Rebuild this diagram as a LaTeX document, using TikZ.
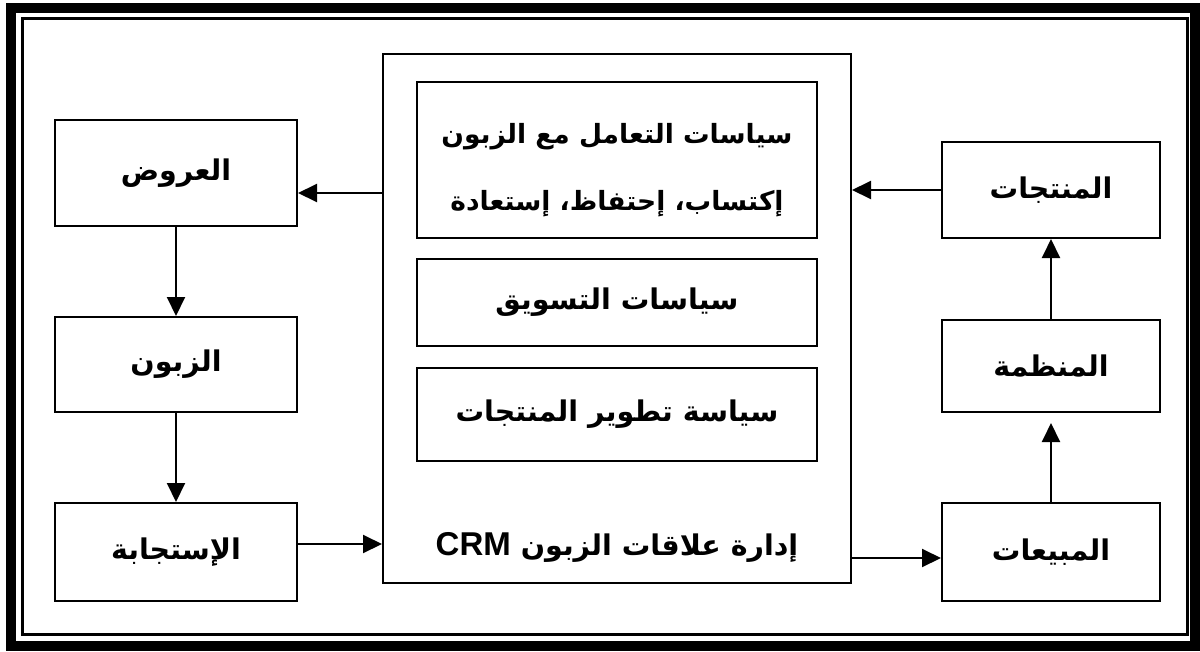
\documentclass[tikz,border=0pt]{standalone}
\usepackage{fontspec}
\usetikzlibrary{arrows.meta}
\setmainfont{Liberation Sans}
\newfontfamily\arabicfont[Script=Arabic]{DejaVu Sans}
\TeXXeTstate=1
\newcommand{\ar}[1]{\arabicfont\bfseries\beginR #1\endR}
\begin{document}
\begin{tikzpicture}[x=1pt,y=-1pt,
    box/.style={draw, line width=2pt, inner sep=0pt, align=center,
      font=\fontsize{28.5}{34}\selectfont},
    flow/.style={line width=2pt, -{Triangle[length=19pt,width=18pt]}}]
            \useasboundingbox (0,0) rectangle (1200,651);
            % frame
            \draw [black, line width=10pt] (10.5,8) rectangle (1194.5,645.5);
            \draw [black, line width=3pt] (22,18.5) rectangle (1187.5,634);
            % left column
            \node [box, minimum width=242pt, minimum height=106pt] (offers) at (176,173) {\ar{العروض}};
            \node [box, minimum width=242pt, minimum height=95pt] (customer) at (176,364.5) {\ar{الزبون}};
            \node [box, minimum width=242pt, minimum height=98pt] (response) at (176,552) {\ar{الإستجابة}};
            % centre
            \node [box, minimum width=468pt, minimum height=529pt] (crm) at (617,318.5) {};
            \node [box, minimum width=400pt, minimum height=156pt] (dealing) at (617,160) {};
            \node [font=\fontsize{26.5}{34}\selectfont] (dealingtop) at (617,137) {\ar{سياسات التعامل مع الزبون}};
            \node [font=\fontsize{26.5}{34}\selectfont] (dealingsub) at (617,204) {\ar{إكتساب، إحتفاظ، إستعادة}};
            \node [box, minimum width=400pt, minimum height=87pt] (marketing) at (617,302.5) {\ar{سياسات التسويق}};
            \node [box, minimum width=400pt, minimum height=93pt] (develop) at (617,414.5) {\ar{سياسة تطوير المنتجات}};
            \node [font=\fontsize{28.5}{34}\selectfont] (crmtitle) at (617,547)
              {\ar{إدارة علاقات الزبون \beginL{\rmfamily\bfseries\fontsize{33}{34}\selectfont CRM}\endL{}}};
            % right column
            \node [box, minimum width=218pt, minimum height=96pt] (products) at (1051,190) {\ar{المنتجات}};
            \node [box, minimum width=218pt, minimum height=92pt] (organisation) at (1051,366) {\ar{المنظمة}};
            \node [box, minimum width=218pt, minimum height=98pt] (sales) at (1051,552) {\ar{المبيعات}};
            % connectors
            \coordinate (yoffers) at (0,193);
            \coordinate (yresponse) at (0,544);
            \coordinate (ysales) at (0,558);
            \draw [flow] (crm.west |- yoffers) -- (offers.east |- yoffers);
            \draw [flow] (offers.south) -- (customer.north);
            \draw [flow] (customer.south) -- (response.north);
            \draw [flow] (response.east |- yresponse) -- (crm.west |- yresponse);
            \draw [flow] (crm.east |- ysales) -- (sales.west |- ysales);
            \draw [flow, shorten >=10pt] (sales.north) -- (organisation.south);
            \draw [flow] (organisation.north) -- (products.south);
            \draw [flow] (products.west) -- (crm.east |- products.west);
          \end{tikzpicture}
\end{document}
